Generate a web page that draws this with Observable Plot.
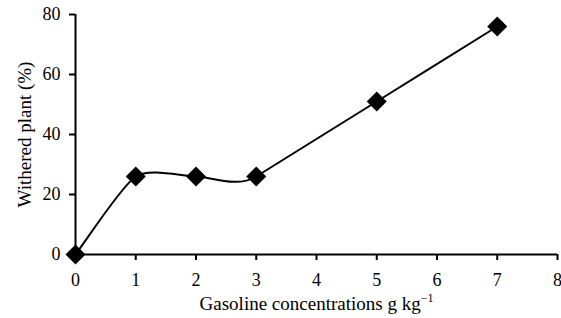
<!DOCTYPE html>
<html>
<head>
<meta charset="utf-8">
<script src="https://cdn.jsdelivr.net/npm/d3@7"></script>
<script src="https://cdn.jsdelivr.net/npm/@observablehq/plot@0.6"></script>
<style>
  html, body { margin: 0; padding: 0; background: #fff; }
</style>
</head>
<body>
<div id="chart"></div>
<script>
const concentrations = [0, 1, 2, 3, 5, 7];
const withered = [0, 26, 26, 26, 51, 76];
const xTicks = [0, 1, 2, 3, 4, 5, 6, 7, 8];
const yTicks = [0, 20, 40, 60, 80];
const xLabel = "Gasoline concentrations g kg";
const xLabelSup = "−1";
const yLabel = "Withered plant (%)";

const data = concentrations.map((c, i) => ({x: c, y: withered[i]}));
const FONT = "Liberation Serif, DejaVu Serif, serif";

// Smoothed curve (Bezier through points); the final straight run stays straight.
function smoothCurve(context) {
  let pts = [];
  const s = 0.7;
  function restCollinear(pts, i) {
    if (i + 2 >= pts.length) return false;
    const a = pts[i], b = pts[i + 1];
    for (let j = i + 2; j < pts.length; j++) {
      const c = pts[j];
      const cross = (b[0] - a[0]) * (c[1] - a[1]) - (b[1] - a[1]) * (c[0] - a[0]);
      if (Math.abs(cross) > 0.02 * Math.hypot(b[0] - a[0], b[1] - a[1]) * Math.hypot(c[0] - a[0], c[1] - a[1])) return false;
    }
    return true;
  }
  return {
    areaStart() {}, areaEnd() {},
    lineStart() { pts = []; },
    point(x, y) { pts.push([+x, +y]); },
    lineEnd() {
      const n = pts.length;
      if (!n) return;
      const arm = new Array(n);
      for (let i = 0; i < n; i++) {
        if (i === 0 || i === n - 1) { arm[i] = null; continue; }
        const a = pts[i - 1], b = pts[i], c = pts[i + 1];
        let tx = (c[0] - a[0]) / 2 * s, ty = (c[1] - a[1]) / 2 * s;
        if (restCollinear(pts, i)) {
          const len = Math.hypot(tx, ty);
          const dx = c[0] - b[0], dy = c[1] - b[1], dl = Math.hypot(dx, dy);
          tx = dx / dl * len; ty = dy / dl * len;
        }
        arm[i] = [tx / 3, ty / 3];
      }
      context.moveTo(pts[0][0], pts[0][1]);
      for (let i = 0; i < n - 1; i++) {
        const p = pts[i], q = pts[i + 1];
        let c1, c2;
        if (arm[i]) c1 = [p[0] + arm[i][0], p[1] + arm[i][1]];
        else c1 = [p[0] + (q[0] - p[0]) / 6, p[1] + (q[1] - p[1]) / 6];
        if (arm[i + 1]) c2 = [q[0] - arm[i + 1][0], q[1] - arm[i + 1][1]];
        else c2 = [q[0] - (q[0] - p[0]) / 6, q[1] - (q[1] - p[1]) / 6];
        context.bezierCurveTo(c1[0], c1[1], c2[0], c2[1], q[0], q[1]);
      }
    }
  };
}

const chart = Plot.plot({
  width: 561,
  height: 318,
  marginTop: 14,
  marginBottom: 64,
  marginLeft: 75,
  marginRight: 4,
  style: {fontFamily: FONT, fontSize: "18px", color: "#000", background: "#fff"},
  x: {domain: [0, 8], ticks: xTicks},
  y: {domain: [0, 80], ticks: yTicks},
  marks: [
    Plot.axisX({ticks: xTicks, tickSize: 6, tickPadding: 13, tickFormat: d => String(d), label: xLabel, labelAnchor: "center", labelArrow: "none", labelOffset: 55, fontSize: 18, strokeWidth: 2, color: "#000"}),
    Plot.axisY({ticks: yTicks, tickSize: 6, tickPadding: 9, tickFormat: d => String(d), label: yLabel, labelAnchor: "center", labelArrow: "none", labelOffset: 58, fontSize: 18, strokeWidth: 2, color: "#000"}),
    Plot.ruleY([0], {stroke: "#000", strokeWidth: 2}),
    Plot.ruleX([0], {stroke: "#000", strokeWidth: 2}),
    Plot.line(data, {x: "x", y: "y", curve: smoothCurve, stroke: "#000", strokeWidth: 2}),
    Plot.dot(data, {x: "x", y: "y", symbol: "diamond2", r: 9, fill: "#000", stroke: "none"})
  ]
});
chart.setAttribute("font-family", FONT);
chart.querySelectorAll("text").forEach(el => {
  el.setAttribute("font-family", FONT);
  el.style.setProperty("font-family", FONT, "important");
  const t = el.textContent;
  if (t === xLabel || t === yLabel) {
    el.style.setProperty("font-size", "19px", "important");
  }
  if (t === xLabel) {
    const sup = document.createElementNS("http://www.w3.org/2000/svg", "tspan");
    sup.setAttribute("dy", "-8");
    sup.setAttribute("font-size", "12");
    sup.textContent = xLabelSup;
    el.appendChild(sup);
  }
});
document.getElementById("chart").appendChild(chart);
</script>
</body>
</html>
